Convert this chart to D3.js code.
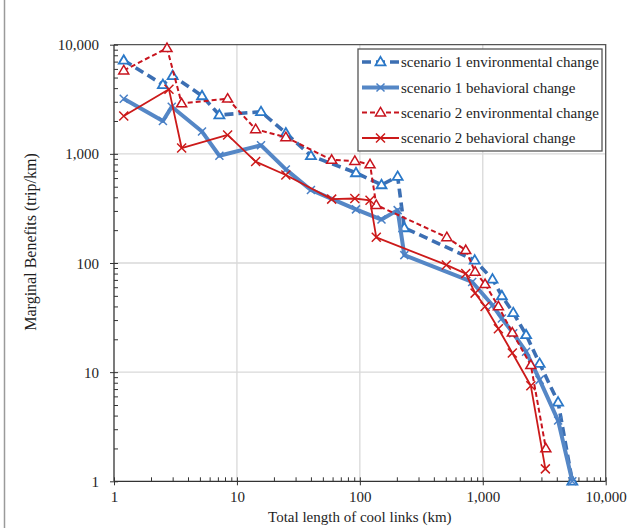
<!DOCTYPE html>
<html><head><meta charset="utf-8">
<script src="https://cdn.jsdelivr.net/npm/d3@7"></script>
<style>body{margin:0;background:#fff}svg{display:block}text{font-family:"Liberation Serif","Times New Roman",serif;fill:#1e1e1e}</style>
</head><body><svg id="c" width="643" height="528"></svg>
<script>
// ---- data ----
const s1EnvX = [1.2, 2.5, 3.0, 5.2, 7.2, 15.7, 25, 40, 93, 150, 203, 230, 860, 1200, 1430, 1770, 2250, 2900, 4100, 5350];
const s1EnvY = [7200, 4300, 5200, 3400, 2270, 2430, 1550, 960, 670, 520, 620, 210, 106, 71, 50, 35, 22, 12, 5.3, 1];
const s1BehX = [1.2, 2.5, 2.95, 5.2, 7.2, 15.7, 25, 40, 93, 150, 203, 230, 820, 1200, 1430, 1770, 2250, 2900, 4100, 5350];
const s1BehY = [3200, 2000, 2700, 1600, 960, 1200, 720, 467, 310, 250, 305, 118, 67, 41, 31, 22.7, 15.4, 8.5, 3.6, 1];
const s2EnvX = [1.2, 2.7, 3.55, 8.4, 14.2, 25, 59, 91, 121, 136, 510, 727, 866, 1044, 1340, 1740, 2460, 3260];
const s2EnvY = [5800, 9300, 2900, 3200, 1680, 1420, 880, 860, 800, 340, 172, 131, 83, 64, 40, 23, 11.6, 2.0];
const s2BehX = [1.2, 2.8, 3.55, 8.4, 14.2, 25, 59, 91, 121, 136, 505, 727, 866, 1044, 1340, 1740, 2460, 3230];
const s2BehY = [2220, 3900, 1130, 1490, 850, 640, 385, 390, 375, 172, 96, 80, 53, 40, 25, 15, 7.5, 1.3];
const seriesNames = ["scenario 1 environmental change", "scenario 1 behavioral change",
                     "scenario 2 environmental change", "scenario 2 behavioral change"];
const majorTicks = [1, 10, 100, 1000, 10000];
const xTitle = "Total length of cool links (km)";
const yTitle = "Marginal Benefits (trip/km)";

// ---- layout ----
const L = 114, R = 605.7, T = 44.7, B = 481.3;
const svg = d3.select("#c");
const x = d3.scaleLog().domain([1, 10000]).range([L, R]);
const y = d3.scaleLog().domain([1, 10000]).range([B, T]);
const fmt = d3.format(",");
const minor = [];
for (let d = 1; d < 10000; d *= 10) for (let k = 2; k <= 9; k++) minor.push(d * k);

// outer frame line on the left
svg.append("line").attr("x1", 4.5).attr("x2", 4.5).attr("y1", 0).attr("y2", 528)
  .attr("stroke", "#9a9a9a").attr("stroke-width", 1.5);

// grid
const grid = svg.append("g").attr("stroke", "#d9d9d9").attr("stroke-width", 1.3);
[10, 100, 1000].forEach(v => {
  grid.append("line").attr("x1", x(v)).attr("x2", x(v)).attr("y1", T).attr("y2", B);
  grid.append("line").attr("x1", L).attr("x2", R).attr("y1", y(v)).attr("y2", y(v));
});

// frame top/right
svg.append("path").attr("d", `M${L},${T}H${R}V${B}`).attr("fill", "none")
  .attr("stroke", "#555").attr("stroke-width", 1.3);

// axes via d3 axis generators
const xMajor = d3.axisBottom(x).tickValues(majorTicks).tickFormat(fmt).tickSize(4).tickPadding(10);
const gx = svg.append("g").attr("transform", `translate(0,${B})`).call(xMajor);
gx.select(".domain").attr("stroke", "#333").attr("stroke-width", 1.3).attr("d", `M${L},0H${R}`);
gx.selectAll(".tick line").attr("stroke", "#333").attr("y1", -4).attr("y2", 4);
gx.selectAll(".tick text").attr("font-size", 15).attr("font-family", "Liberation Serif").attr("fill", "#1e1e1e").attr("dy", null).attr("y", 21);
const gxm = svg.append("g").attr("transform", `translate(0,${B})`)
  .call(d3.axisTop(x).tickValues(minor).tickFormat("").tickSize(4));
gxm.select(".domain").remove();
gxm.selectAll(".tick line").attr("stroke", "#333");

const yMajor = d3.axisLeft(y).tickValues(majorTicks).tickFormat(fmt).tickSize(4).tickPadding(11);
const gy = svg.append("g").attr("transform", `translate(${L},0)`).call(yMajor);
gy.select(".domain").attr("stroke", "#333").attr("stroke-width", 1.3).attr("d", `M0,${T}V${B}`);
gy.selectAll(".tick line").attr("stroke", "#333").attr("x1", -4).attr("x2", 4);
gy.selectAll(".tick text").attr("font-size", 15).attr("font-family", "Liberation Serif").attr("fill", "#1e1e1e").attr("dy", "0.34em");
const gym = svg.append("g").attr("transform", `translate(${L},0)`)
  .call(d3.axisRight(y).tickValues(minor).tickFormat("").tickSize(4));
gym.select(".domain").remove();
gym.selectAll(".tick line").attr("stroke", "#333");

// titles
svg.append("text").attr("x", (L + R) / 2).attr("y", 522).attr("text-anchor", "middle")
  .attr("font-size", 15).text(xTitle);
svg.append("text").attr("transform", "translate(36,242) rotate(-90)").attr("text-anchor", "middle")
  .attr("font-size", 16).text(yTitle);

// series
const styles = [
  {xs: s1EnvX, ys: s1EnvY, line: "#3c6fb3", w: 3.6, dash: "9,5", mk: "tri", mc: "#2a78c8", mw: 1.8, ms: 10},
  {xs: s1BehX, ys: s1BehY, line: "#5587c6", w: 4, dash: null, mk: "x", mc: "#4a80c6", mw: 1.5, ms: 8},
  {xs: s2EnvX, ys: s2EnvY, line: "#c8141e", w: 2, dash: "5,3", mk: "tri", mc: "#c8141e", mw: 1.5, ms: 10},
  {xs: s2BehX, ys: s2BehY, line: "#cc1a1a", w: 1.8, dash: null, mk: "x", mc: "#cc1a1a", mw: 1.5, ms: 9}
];
const lineGen = d3.line().x(d => x(d[0])).y(d => y(d[1]));
function marker(g, type, cx, cy, s, c, w) {
  if (type === "tri") {
    const h = s * 0.85;
    g.append("path").attr("d", `M${cx},${cy - h * 0.6}L${cx + s / 2},${cy + h * 0.4}L${cx - s / 2},${cy + h * 0.4}Z`)
      .attr("fill", "#fff").attr("stroke", c).attr("stroke-width", w);
  } else {
    const r = s / 2;
    g.append("path").attr("d", `M${cx - r},${cy - r}L${cx + r},${cy + r}M${cx - r},${cy + r}L${cx + r},${cy - r}`)
      .attr("stroke", c).attr("stroke-width", w).attr("fill", "none");
  }
}
styles.forEach(st => {
  const pts = st.xs.map((v, i) => [v, st.ys[i]]);
  const g = svg.append("g");
  g.append("path").datum(pts).attr("d", lineGen).attr("fill", "none")
    .attr("stroke", st.line).attr("stroke-width", st.w).attr("stroke-dasharray", st.dash)
    .attr("stroke-linejoin", "round");
  pts.forEach(p => marker(g, st.mk, x(p[0]), y(p[1]), st.ms, st.mc, st.mw));
});

// legend
const lg = svg.append("g");
lg.append("rect").attr("x", 358).attr("y", 49).attr("width", 244).attr("height", 102)
  .attr("fill", "#fff").attr("stroke", "#555").attr("stroke-width", 1.3);
const rowsY = [62, 87.5, 112.5, 138];
styles.forEach((st, i) => {
  const yy = rowsY[i];
  lg.append("line").attr("x1", 362).attr("x2", 399).attr("y1", yy).attr("y2", yy)
    .attr("stroke", st.line).attr("stroke-width", st.w).attr("stroke-dasharray", st.dash);
  marker(lg, st.mk, 380.5, yy, st.ms, st.mc, st.mw);
  lg.append("text").attr("x", 401).attr("y", yy + 5).attr("font-size", 15).text(seriesNames[i]);
});
</script></body></html>
